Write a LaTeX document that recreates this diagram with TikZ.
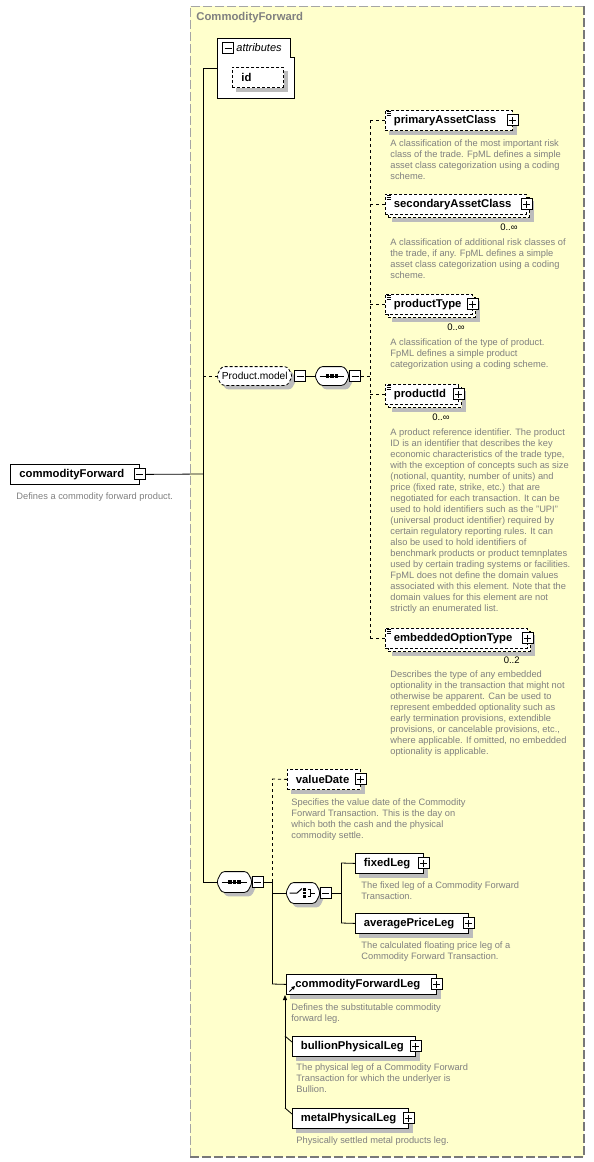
\documentclass[tikz,border=0pt]{standalone}
\usepackage{fontspec}
\setmainfont{Liberation Sans}
\usetikzlibrary{arrows.meta}
\definecolor{grpfill}{RGB}{255,255,204}
\definecolor{shcol}{RGB}{188,188,188}
\definecolor{desccol}{RGB}{128,128,128}
\definecolor{grpline}{RGB}{165,165,165}
\definecolor{grpdark}{RGB}{120,120,120}
% shadow strips right of and below a node
\newcommand\Shadow[1]{%
  \fill[shcol] ([xshift=0.4pt,yshift=-4pt]#1.north east) rectangle ([xshift=4pt,yshift=-4pt]#1.south east);
  \fill[shcol] ([xshift=4pt,yshift=-0.4pt]#1.south west) rectangle ([xshift=4pt,yshift=-4pt]#1.south east);}
% element box: opts, name, x, y, w, text
\newcommand\ElemNS[6][]{%
  \node[elbox,#1,minimum width=#5pt] (#2) at (#3,#4) {};
  \node[lbl,anchor=west] (#2-t) at ([xshift=8.5pt]#2.west) {#6};
  \node[pmbox,plus] (#2-p) at (#2.east) {};
}
\newcommand\Elem[6][]{%
  \node[elbox,#1,minimum width=#5pt] (#2) at (#3,#4) {};
  \Shadow{#2}
  \node[lbl,anchor=west] (#2-t) at ([xshift=8.5pt]#2.west) {#6};
  \node[pmbox,plus] (#2-p) at (#2.east) {};
}
% back box of a repeated element
\newcommand\Back[4]{%
  \node[elbox,dbox,minimum width=#4pt] (#1) at (#2,#3) {};
  \Shadow{#1}}
\newcommand\Simp[1]{%
  \draw[line width=0.5pt] ([xshift=1.5pt,yshift=-1.5pt]#1.north west) -- ++(4pt,0pt)
    ([xshift=1.5pt,yshift=-3.3pt]#1.north west) -- ++(4pt,0pt)
    ([xshift=1.5pt,yshift=-5.1pt]#1.north west) -- ++(4pt,0pt);}
\newcommand\HexPath[3]{([shift={(#2,#3)}]#1.west) -- ([shift={(#2+5pt,#3)}]#1.north west) -- ([shift={(#2-5pt,#3)}]#1.north east) -- ([shift={(#2,#3)}]#1.east) -- ([shift={(#2-5pt,#3)}]#1.south east) -- ([shift={(#2+5pt,#3)}]#1.south west) -- cycle}
% compositor shape: opts, name, cx, cy, w, h
\newcommand\Hex[6][]{%
  \node[inner sep=0pt, minimum width=#5pt, minimum height=#6pt] (#2) at (#3,#4) {};
  \fill[shcol, rounded corners=3pt] \HexPath{#2}{4pt}{-4pt};
  \draw[fill=white, rounded corners=3pt, line width=0.8pt, #1] \HexPath{#2}{0pt}{0pt};
}
\newcommand\SeqIcon[1]{%
  \draw[line width=1pt] ([xshift=5pt]#1.west) -- ([xshift=-5pt]#1.east);
  \foreach \dx in {-4.5,0,4.5} \fill ([xshift=\dx pt]#1.center) ++(-1.6pt,-1.6pt) rectangle ++(3.2pt,3.2pt);}
\begin{document}
\begin{tikzpicture}[x=1pt,y=-1pt,
  lbl/.style={font=\fontsize{11.3}{13}\selectfont\bfseries, inner sep=0pt},
  elbox/.style={draw, fill=white, line width=0.8pt, minimum height=20pt, anchor=north west, inner sep=0pt},
  dbox/.style={dash pattern=on 3pt off 2pt},
  dline/.style={dash pattern=on 3pt off 3pt},
  pmbox/.style={draw, fill=white, minimum size=11pt, inner sep=0pt, line width=0.9pt},
  plus/.style={path picture={\draw[line width=0.8pt]
     ([xshift=-3.5pt]path picture bounding box.center) -- ([xshift=3.5pt]path picture bounding box.center)
     ([yshift=-3.5pt]path picture bounding box.center) -- ([yshift=3.5pt]path picture bounding box.center);}},
  minus/.style={path picture={\draw[line width=0.8pt]
     ([xshift=-3.5pt]path picture bounding box.center) -- ([xshift=3.5pt]path picture bounding box.center);}},
  desc/.style={font=\fontsize{9.3}{11}\selectfont, text=desccol, anchor=north west, align=left, inner sep=0pt},
  mult/.style={font=\fontsize{9.5}{11}\selectfont, anchor=east, inner sep=0pt},
  line width=0.8pt]
\useasboundingbox (0,0) rectangle (594,1162);
% group box
\fill[grpfill] (190,6) rectangle (584,1157);
\draw[draw=grpline, line width=1pt, dash pattern=on 9pt off 3pt] (584,6) -- (190,6) -- (190,1157);
\draw[draw=grpdark, line width=1.6pt, dash pattern=on 9pt off 3pt] (584,6) -- (584,1157) -- (190,1157);
\node[anchor=west, inner sep=0pt, text=desccol, font=\fontsize{11.3}{13}\selectfont\bfseries] (ttl) at (196,18) {CommodityForward};

% root
\node[elbox,minimum width=129pt] (cf) at (10,464) {};
\node[lbl,anchor=west] (cf-t) at ([xshift=9pt]cf.west) {commodityForward};
\node[pmbox,minus] (cf-m) at (cf.east) {};
\node[desc] (cf-d) at (16,492) {Defines a commodity forward product.};

% attributes
\node[minimum width=77pt, minimum height=60pt, inner sep=0pt, anchor=north west] (attr) at (217,38) {};
\draw[fill=white] (217,38) -- (290,38) -- (290,57) -- (294,57) -- (294,98) -- (217,98) -- cycle;
\node[pmbox,minus] (attr-m) at (228,48) {};
\node[anchor=west, inner sep=0pt, font=\fontsize{11}{13}\selectfont\itshape] (attr-t) at (236,48) {attributes};
\node[elbox,dbox,minimum width=51pt] (id) at (232,67) {};
\Shadow{id}
\node[lbl,anchor=west] (id-t) at (241,77) {id};

% bus 1
\coordinate (b1t) at (203,68);
\coordinate (b1m) at (203,474);
\coordinate (b1p) at (203,376);
\coordinate (b1b) at (203,882);
\draw (b1t) -- (b1b);
\draw (b1t) -- (attr.west |- b1t);
\draw (cf-m.east) -- (b1m);

% Product.model
\Hex[dash pattern=on 3pt off 2pt]{pm}{254.5}{376}{75}{18}
\node[anchor=west, inner sep=0pt, font=\fontsize{10.2}{13}\selectfont] (pm-t) at (221.5,376) {Product.model};
\node[pmbox,minus] (pm-m) at (300,376) {};
\Hex{seq1}{332}{376}{34}{18}
\SeqIcon{seq1}
\node[pmbox,minus] (seq1-m) at (355,376) {};
\draw[dline] (b1p) -- (pm.west);
\draw (pm-m.east) -- (seq1.west);
\coordinate (b2c) at (370,376);
\coordinate (b2t) at (370,120);
\coordinate (b2b) at (370,638);
\draw[dline] (seq1-m.east) -- (b2c);
\draw[dline] (b2t) -- (b2b);

% children of Product.model
\Elem[dbox]{pac}{385}{110}{127}{primaryAssetClass}
\Simp{pac}
\node[desc] (pac-d) at (390,139) {A classification of the most important risk\\class of the trade. FpML defines a simple\\asset class categorization using a coding\\scheme.};

\Back{sac-b}{388}{197}{141}
\ElemNS[dbox]{sac}{385}{194}{141}{secondaryAssetClass}
\Simp{sac}
\node[mult] (sac-n) at (518,227) {0..∞};
\node[desc] (sac-d) at (390,238) {A classification of additional risk classes of\\the trade, if any. FpML defines a simple\\asset class categorization using a coding\\scheme.};

\Back{pt-b}{388}{297}{87}
\ElemNS[dbox]{pt}{385}{294}{87}{productType}
\Simp{pt}
\node[mult] (pt-n) at (465,327) {0..∞};
\node[desc] (pt-d) at (390,338) {A classification of the type of product.\\FpML defines a simple product\\categorization using a coding scheme.};

\Back{pid-b}{388}{387}{73}
\ElemNS[dbox]{pid}{385}{384}{73}{productId}
\Simp{pid}
\node[mult] (pid-n) at (450,417) {0..∞};
\node[desc] (pid-d) at (390,428) {A product reference identifier. The product\\ID is an identifier that describes the key\\economic characteristics of the trade type,\\with the exception of concepts such as size\\(notional, quantity, number of units) and\\price (fixed rate, strike, etc.) that are\\negotiated for each transaction. It can be\\used to hold identifiers such as the "UPI"\\(universal product identifier) required by\\certain regulatory reporting rules. It can\\also be used to hold identifiers of\\benchmark products or product temnplates\\used by certain trading systems or facilities.\\FpML does not define the domain values\\associated with this element. Note that the\\domain values for this element are not\\strictly an enumerated list.};

\Back{eot-b}{388}{631}{142}
\ElemNS[dbox]{eot}{385}{628}{142}{embeddedOptionType}
\Simp{eot}
\node[mult] (eot-n) at (520,660) {0..2};
\node[desc] (eot-d) at (390,670) {Describes the type of any embedded\\optionality in the transaction that might not\\otherwise be apparent. Can be used to\\represent embedded optionality such as\\early termination provisions, extendible\\provisions, or cancelable provisions, etc.,\\where applicable. If omitted, no embedded\\optionality is applicable.};

\foreach \n in {pac,sac,pt,pid,eot} \draw[dline] (b2t |- \n.west) -- (\n.west);

% bottom sequence
\Hex{seq2}{234.5}{882}{35}{20}
\SeqIcon{seq2}
\node[pmbox,minus] (seq2-m) at (257.5,882) {};
\draw (b1b) -- (seq2.west);
\coordinate (b3m) at (272,882);
\coordinate (b3t) at (272,779);
\coordinate (b3c) at (272,893);
\coordinate (b3b) at (272,984);
\draw (seq2-m.east) -- (b3m);
\draw[dline] (b3m) -- (b3t);
\draw (b3m) -- (b3b);

\Elem[dbox]{vd}{287}{769}{73}{valueDate}
\node[desc] (vd-d) at (291,798) {Specifies the value date of the Commodity\\Forward Transaction. This is the day on\\which both the cash and the physical\\commodity settle.};
\draw[dline] (b3t) -- (vd.west);

% choice
\Hex{ch}{303}{893}{34}{20}
\draw[line width=1pt] ([xshift=4pt]ch.west) -- ([xshift=-6pt]ch.center) -- ([xshift=-1pt,yshift=4.5pt]ch.center);
\foreach \dy in {-3.5,0,3.5} \fill ([xshift=1.5pt,yshift=\dy pt]ch.center) ++(-1.2pt,-1.2pt) rectangle ++(2.4pt,2.4pt);
\draw[line width=0.9pt] ([xshift=4.5pt,yshift=3.5pt]ch.center) -- ([xshift=7.5pt,yshift=3.5pt]ch.center) -- ([xshift=7.5pt,yshift=-3.5pt]ch.center) -- ([xshift=4.5pt,yshift=-3.5pt]ch.center)
   ([xshift=7.5pt]ch.center) -- ([xshift=11.5pt]ch.center);
\node[pmbox,minus] (ch-m) at (325.5,893) {};
\draw (b3c) -- (ch.west);
\coordinate (b4c) at (341,893);
\coordinate (b4t) at (341,863);
\coordinate (b4b) at (341,923);
\draw (ch-m.east) -- (b4c);
\draw (b4t) -- (b4b);

\Elem{fl}{355}{853}{68}{fixedLeg}
\node[desc] (fl-d) at (361,881) {The fixed leg of a Commodity Forward\\Transaction.};
\Elem{apl}{355}{913}{113}{averagePriceLeg}
\node[desc] (apl-d) at (361,941) {The calculated floating price leg of a\\Commodity Forward Transaction.};
\draw (b4t) -- (fl.west);
\draw (b4b) -- (apl.west);

% substitution group
\Elem{cfl}{286}{974}{150}{\hspace{0.5pt}commodityForwardLeg}
\draw[line width=0.9pt, -{Triangle[width=3.5pt,length=3.5pt]}] (289.5,991.5) -- (295,986);
\node[desc] (cfl-d) at (291,1003) {Defines the substitutable commodity\\forward leg.};
\draw (b3b) -- (cfl.west);

\Elem{bpl}{292}{1036}{123}{bullionPhysicalLeg}
\node[desc] (bpl-d) at (296,1063) {The physical leg of a Commodity Forward\\Transaction for which the underlyer is\\Bullion.};
\Elem{mpl}{292}{1108}{116}{metalPhysicalLeg}
\node[desc] (mpl-d) at (296,1136) {Physically settled metal products leg.};

\coordinate (s1) at (285,1108);
\coordinate (s2) at (285,995);
\coordinate (s3) at (285,1036);
\draw[-{Triangle[width=4pt,length=5pt]}] (s1) -- (s2);
\draw (s3) -- ([yshift=-6pt]bpl.north west);
\draw (s1) -- ([yshift=-6pt]mpl.north west);
\end{tikzpicture}
\end{document}
